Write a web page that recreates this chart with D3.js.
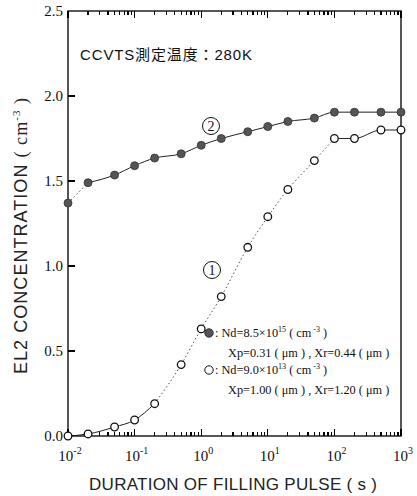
<!DOCTYPE html>
<html>
<head>
<meta charset="utf-8">
<script src="https://cdn.jsdelivr.net/npm/d3@7/dist/d3.min.js"></script>
<style>
  html, body { margin: 0; padding: 0; background: #fff; }
  svg { display: block; }
  .serif { font-family: "Liberation Serif", "DejaVu Serif", serif; }
  .sans { font-family: "Liberation Sans", Arial, sans-serif; }
</style>
</head>
<body>
<script>
// Filling pulse durations (s)
const durations = [0.01, 0.02, 0.05, 0.1, 0.2, 0.5, 1, 2, 5, 10, 20, 50, 100, 200, 500, 1000];
// Curve (2): Nd = 8.5e15 cm^-3 (filled markers)
const el2High = [1.37, 1.49, 1.535, 1.59, 1.635, 1.66, 1.71, 1.75, 1.79, 1.82, 1.85, 1.87, 1.905, 1.905, 1.905, 1.905];
// Curve (1): Nd = 9.0e13 cm^-3 (open markers)
const el2Low = [0.0, 0.012, 0.053, 0.094, 0.19, 0.42, 0.63, 0.82, 1.11, 1.29, 1.45, 1.62, 1.75, 1.75, 1.80, 1.80];
// Axis ticks
const yTicks = [0, 0.5, 1.0, 1.5, 2.0, 2.5];
const xDecades = [-2, -1, 0, 1, 2, 3];

const W = 417, H = 496;
const svg = d3.select("body").append("svg").attr("width", W).attr("height", H);

const x = d3.scaleLog().domain([0.01, 1000]).range([68, 401]);
const y = d3.scaleLinear().domain([0, 2.5]).range([436, 11]);

const high = durations.map((d, i) => ({ t: d, v: el2High[i] }));
const low = durations.map((d, i) => ({ t: d, v: el2Low[i] }));

// Y tick labels
svg.append("g").selectAll("text").data(yTicks).join("text")
  .attr("class", "serif")
  .attr("x", x(0.01) - 5).attr("y", d => y(d) + 5)
  .attr("text-anchor", "end").attr("font-size", 15).attr("fill", "#111")
  .text(d3.format(".1f"));

// X tick labels 10^n
xDecades.forEach(n => {
  const t = svg.append("text").attr("class", "serif")
    .attr("x", x(Math.pow(10, n)) + 2).attr("y", 461)
    .attr("text-anchor", "middle").attr("font-size", 15).attr("fill", "#111");
  t.append("tspan").text("10");
  t.append("tspan").attr("dy", -7).attr("font-size", 10).text(String(n));
});

// Axis titles
svg.append("text").attr("class", "sans")
  .attr("x", 233).attr("y", 490).attr("text-anchor", "middle")
  .attr("font-size", 17).attr("fill", "#222")
  .attr("textLength", 288).attr("lengthAdjust", "spacing")
  .text("DURATION OF FILLING PULSE ( s )");

const yt = svg.append("text")
  .attr("transform", "translate(27,236) rotate(-90)")
  .attr("text-anchor", "middle").attr("font-size", 18).attr("fill", "#222")
  .attr("textLength", 276).attr("lengthAdjust", "spacing");
yt.append("tspan").attr("class", "sans").text("EL2 CONCENTRATION ");
yt.append("tspan").attr("class", "serif").text("( cm");
yt.append("tspan").attr("class", "serif").attr("dy", -7).attr("font-size", 11).text("-3");
yt.append("tspan").attr("class", "serif").attr("dy", 7).text(" )");

// Curves
const line = d3.line().x(d => x(d.t)).y(d => y(d.v)).curve(d3.curveMonotoneX);
const seg = (data, from, to, dash) => {
  svg.append("path")
    .datum(data.slice(from, to + 1))
    .attr("d", line)
    .attr("fill", "none").attr("stroke", "#222").attr("stroke-width", dash ? 0.8 : 1)
    .attr("stroke-dasharray", dash || null);
};
seg(high, 0, 1, "1.5,2.5");
seg(high, 1, 15, null);
seg(low, 0, 4, null);
seg(low, 4, 12, "1.5,2.5");
seg(low, 12, 15, null);

// Curve labels (circled numbers)
[[211, 126, "2"], [212, 270, "1"]].forEach(([cx, cy, s]) => {
  svg.append("circle").attr("cx", cx).attr("cy", cy).attr("r", 8.5)
    .attr("fill", "#fff").attr("stroke", "#111").attr("stroke-width", 1);
  svg.append("text").attr("class", "serif").attr("x", cx).attr("y", cy + 5)
    .attr("text-anchor", "middle").attr("font-size", 14).attr("fill", "#111").text(s);
});

// Measurement temperature note
svg.append("text")
  .attr("x", 80).attr("y", 60)
  .attr("font-family", "'Liberation Sans', 'Noto Sans CJK JP', sans-serif")
  .attr("font-size", 15).attr("fill", "#111")
  .attr("textLength", 172).attr("lengthAdjust", "spacing")
  .text("CCVTS測定温度：280K");

// Legend
const leg = svg.append("g").attr("class", "serif").attr("font-size", 12.3).attr("fill", "#111");
const legRow = (cy, fill, nd, exp, xp, xr) => {
  leg.append("circle").attr("cx", 209).attr("cy", cy).attr("r", 4.2)
    .attr("fill", fill).attr("stroke", fill === "#fff" ? "#111" : "#333").attr("stroke-width", 1);
  const t = leg.append("text").attr("x", 215).attr("y", cy + 4);
  t.append("tspan").text(":  Nd=" + nd + "\u00d710");
  t.append("tspan").attr("dy", -5).attr("font-size", 8).text(exp);
  t.append("tspan").attr("dy", 5).text("  ( cm");
  t.append("tspan").attr("dy", -5).attr("font-size", 8).text(" -3");
  t.append("tspan").attr("dy", 5).text(" )");
  leg.append("text").attr("x", 228).attr("y", cy + 24)
    .text("Xp=" + xp + " ( \u03bcm ) , Xr=" + xr + " ( \u03bcm )");
};
legRow(333, "#555", "8.5", "15", "0.31", "0.44");
legRow(370, "#fff", "9.0", "13", "1.00", "1.20");

// Frame
svg.append("rect")
  .attr("x", x(0.01)).attr("y", y(2.5))
  .attr("width", x(1000) - x(0.01)).attr("height", y(0) - y(2.5))
  .attr("fill", "none").attr("stroke", "#111").attr("stroke-width", 1.4);

// Log ticks along bottom and top (pointing inward), plus left-axis ticks
const logTicks = x.ticks();
const isMajor = d => Math.abs(Math.log10(d) - Math.round(Math.log10(d))) < 1e-9;
const tickLen = d => (isMajor(d) ? 7 : 4);
const tickLayer = svg.append("g")
  .attr("stroke", "#000").attr("stroke-width", 1.3).attr("shape-rendering", "crispEdges");
tickLayer.selectAll("line.bt").data(logTicks).join("line").attr("class", "bt")
  .attr("x1", d => x(d)).attr("x2", d => x(d))
  .attr("y1", y(0)).attr("y2", d => y(0) - tickLen(d));
tickLayer.selectAll("line.tp").data(logTicks).join("line").attr("class", "tp")
  .attr("x1", d => x(d)).attr("x2", d => x(d))
  .attr("y1", y(2.5)).attr("y2", d => y(2.5) + tickLen(d));
tickLayer.selectAll("line.lf").data(yTicks.slice(1, -1)).join("line").attr("class", "lf")
  .attr("x1", x(0.01)).attr("x2", x(0.01) + 7)
  .attr("y1", d => y(d)).attr("y2", d => y(d));

// Markers on top of the axes
svg.append("g").selectAll("circle").data(low).join("circle")
  .attr("cx", d => x(d.t)).attr("cy", d => y(d.v)).attr("r", 3.8)
  .attr("fill", "#fff").attr("stroke", "#111").attr("stroke-width", 1.3);
svg.append("g").selectAll("circle").data(high).join("circle")
  .attr("cx", d => x(d.t)).attr("cy", d => y(d.v)).attr("r", 4)
  .attr("fill", "#555").attr("stroke", "#333").attr("stroke-width", 0.8);
</script>
</body>
</html>
